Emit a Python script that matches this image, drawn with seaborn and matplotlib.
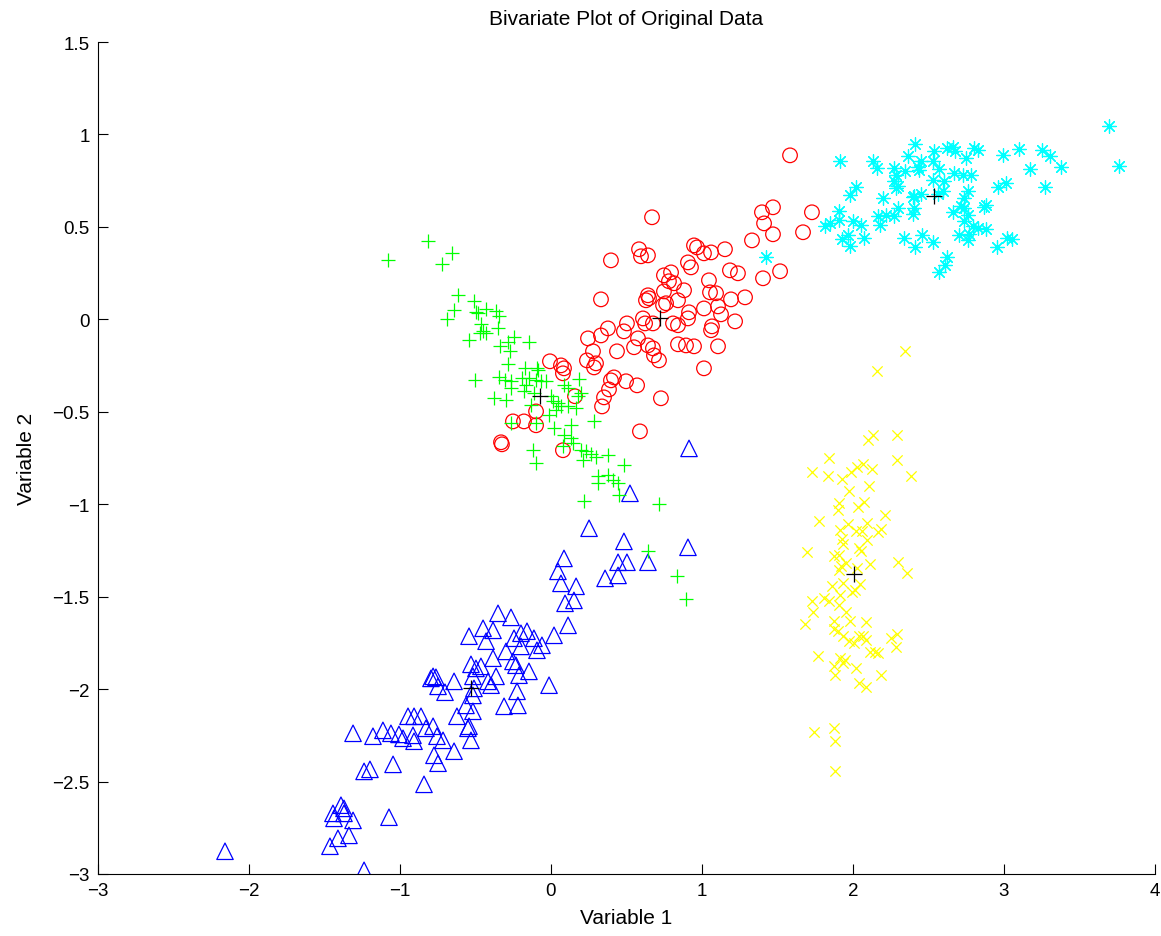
import numpy as np
import pandas as pd
import matplotlib
matplotlib.use("Agg")
import matplotlib.pyplot as plt
import seaborn as sns

# ---- cluster 1: blue triangles ----
blue_x = [-2.159, -1.238, -1.464, -1.411, -1.338, -1.391, -1.371, -1.444, -1.437, -1.311,
          -1.371, -1.073, -0.841, -1.046, -1.238, -1.199, -1.311, -1.179, -1.113, -1.060,
          -1.007, -0.980, -0.914, -0.907, -0.828, -0.781, -0.755, -0.715, -0.642, -0.775,
          -0.748, -0.947, -0.907, -0.861, -0.781, -0.795, -0.762, -0.642, -0.748, -0.702,
          -0.530, -0.497, -0.517, -0.510, -0.563, -0.517, -0.623, -0.543, -0.550, -0.530,
          -0.351, -0.265, -0.450, -0.384, -0.543, -0.430, -0.245, -0.199, -0.159, -0.113,
          -0.060, -0.199, -0.093, -0.298, -0.384, -0.464, -0.252, -0.232, -0.146, -0.212,
          -0.364, -0.417, -0.397, -0.013, -0.225, -0.517, -0.311, -0.219, 0.093, 0.152,
          0.113, 0.020, 0.086, 0.046, 0.066, 0.166, 0.252, 0.444, 0.503, 0.642,
          0.358, 0.444, 0.483, 0.523, 0.907, 0.914]
blue_y = [-2.877, -2.980, -2.850, -2.807, -2.791, -2.628, -2.645, -2.672, -2.699, -2.710,
          -2.672, -2.693, -2.515, -2.407, -2.445, -2.434, -2.239, -2.255, -2.223, -2.239,
          -2.245, -2.266, -2.250, -2.282, -2.212, -2.201, -2.255, -2.277, -2.336, -2.358,
          -2.401, -2.147, -2.147, -2.147, -1.931, -1.942, -1.936, -1.958, -1.985, -2.017,
          -1.866, -1.888, -1.931, -1.996, -2.088, -2.120, -2.147, -2.201, -2.212, -2.277,
          -1.590, -1.612, -1.671, -1.682, -1.714, -1.741, -1.725, -1.698, -1.687, -1.725,
          -1.763, -1.769, -1.790, -1.796, -1.833, -1.877, -1.850, -1.871, -1.904, -1.925,
          -1.931, -1.958, -1.979, -1.979, -2.012, -2.034, -2.093, -2.088, -1.536, -1.520,
          -1.655, -1.709, -1.293, -1.363, -1.428, -1.444, -1.130, -1.314, -1.314, -1.314,
          -1.401, -1.385, -1.201, -0.941, -1.233, -0.698]

# ---- cluster 2: yellow crosses ----
yellow_x = [2.344, 2.159, 2.132, 2.099, 2.291, 1.841, 1.728, 1.834, 1.927, 1.987,
            2.026, 2.066, 2.126, 2.291, 2.384, 2.106, 1.974, 1.907, 1.901, 2.033,
            2.073, 2.212, 1.775, 1.967, 1.914, 2.093, 2.020, 2.060, 2.185, 2.166,
            1.934, 2.093, 2.040, 2.053, 1.695, 1.874, 1.907, 1.921, 1.907, 2.113,
            2.298, 2.358, 2.026, 1.934, 1.861, 2.046, 1.993, 2.013, 1.914, 1.808,
            1.841, 1.728, 1.907, 1.735, 1.954, 1.980, 1.874, 2.086, 1.682, 1.874,
            1.901, 1.934, 1.974, 2.007, 2.040, 2.066, 2.086, 2.252, 2.291, 2.285,
            2.113, 2.146, 2.166, 1.768, 1.914, 1.947, 1.934, 1.874, 2.020, 1.881,
            2.185, 2.040, 2.086, 1.742, 1.874, 1.881, 1.881, 1.954, 1.927]
yellow_y = [-0.173, -0.281, -0.627, -0.654, -0.627, -0.752, -0.827, -0.849, -0.865, -0.827,
            -0.800, -0.784, -0.811, -0.763, -0.849, -0.903, -0.930, -0.995, -1.033, -1.017,
            -0.990, -1.060, -1.092, -1.109, -1.141, -1.103, -1.147, -1.147, -1.136, -1.152,
            -1.217, -1.195, -1.239, -1.255, -1.260, -1.282, -1.276, -1.336, -1.357, -1.325,
            -1.314, -1.374, -1.347, -1.428, -1.444, -1.433, -1.476, -1.466, -1.493, -1.509,
            -1.525, -1.525, -1.547, -1.585, -1.585, -1.633, -1.633, -1.639, -1.650, -1.677,
            -1.687, -1.714, -1.741, -1.752, -1.714, -1.714, -1.736, -1.725, -1.704, -1.774,
            -1.801, -1.801, -1.806, -1.823, -1.833, -1.844, -1.860, -1.877, -1.888, -1.925,
            -1.925, -1.969, -1.991, -2.234, -2.212, -2.282, -2.445, -1.320, -1.190]

# ---- cluster 3: cyan asterisks ----
cyan_x = [3.695, 3.762, 1.914, 2.132, 2.159, 2.411, 2.364, 2.450, 2.536, 2.530,
          2.623, 2.662, 2.675, 2.748, 2.801, 2.828, 2.993, 3.099, 3.252, 3.305,
          3.377, 3.172, 3.272, 2.960, 3.013, 2.881, 2.868, 2.272, 2.285, 2.344,
          2.430, 2.437, 2.570, 2.669, 2.728, 2.781, 2.530, 2.603, 2.272, 2.298,
          2.285, 2.020, 1.980, 2.762, 2.596, 2.563, 2.404, 2.397, 2.450, 2.199,
          2.735, 2.715, 2.735, 1.907, 2.298, 2.404, 2.397, 2.662, 2.762, 2.272,
          2.219, 2.166, 2.179, 1.848, 1.815, 1.907, 2.000, 2.053, 2.735, 2.795,
          2.828, 2.881, 2.768, 2.702, 2.762, 1.967, 1.927, 2.073, 1.980, 2.338,
          2.457, 2.530, 2.411, 2.623, 2.609, 2.570, 2.954, 3.020, 3.053, 1.424]
cyan_y = [1.044, 0.827, 0.855, 0.855, 0.817, 0.946, 0.882, 0.855, 0.909, 0.855,
          0.925, 0.930, 0.909, 0.871, 0.925, 0.914, 0.887, 0.919, 0.914, 0.882,
          0.822, 0.811, 0.714, 0.714, 0.736, 0.617, 0.606, 0.817, 0.779, 0.800,
          0.822, 0.806, 0.811, 0.790, 0.779, 0.779, 0.752, 0.746, 0.746, 0.719,
          0.709, 0.714, 0.671, 0.692, 0.692, 0.676, 0.665, 0.660, 0.676, 0.654,
          0.654, 0.611, 0.600, 0.584, 0.600, 0.600, 0.568, 0.579, 0.562, 0.557,
          0.562, 0.557, 0.508, 0.519, 0.503, 0.535, 0.530, 0.508, 0.530, 0.503,
          0.492, 0.487, 0.460, 0.454, 0.427, 0.454, 0.433, 0.438, 0.395, 0.438,
          0.454, 0.416, 0.389, 0.335, 0.292, 0.254, 0.389, 0.438, 0.433, 0.335]

# ---- cluster 4: red circles ----
red_x = [1.583, 0.669, 1.397, 1.470, 1.411, 1.470, 1.728, 1.669, 1.331, 1.517,
         1.404, 0.397, 0.583, 0.596, 0.642, 0.947, 0.967, 1.013, 1.060, 1.152,
         0.907, 0.927, 1.185, 1.238, 0.748, 0.795, 0.781, 0.815, 0.881, 1.046,
         1.053, 1.093, 0.331, 0.642, 0.629, 0.649, 0.748, 0.742, 0.762, 0.841,
         1.013, 1.106, 1.126, 1.192, 1.285, 0.914, 0.907, 0.609, 0.623, 0.675,
         0.808, 0.841, 1.066, 1.060, 1.219, 0.503, 0.483, 0.377, 0.331, 0.245,
         0.576, 0.550, 0.642, 0.675, 0.682, 0.715, 0.841, 0.894, 0.947, 1.106,
         0.437, 0.278, 0.238, 0.298, 0.285, 1.013, -0.007, 0.066, 0.086, 0.079,
         0.417, 0.397, 0.497, 0.570, 0.384, 0.351, 0.338, 0.728, 0.159, 0.589,
         -0.325, -0.331, -0.252, -0.179, -0.099, -0.099, 0.079]
red_y = [0.887, 0.552, 0.579, 0.606, 0.519, 0.460, 0.579, 0.471, 0.427, 0.260,
         0.222, 0.319, 0.379, 0.341, 0.346, 0.400, 0.389, 0.357, 0.362, 0.379,
         0.308, 0.281, 0.265, 0.249, 0.238, 0.254, 0.206, 0.195, 0.157, 0.211,
         0.146, 0.141, 0.108, 0.130, 0.103, 0.114, 0.151, 0.076, 0.087, 0.103,
         0.059, 0.070, 0.027, 0.108, 0.119, 0.038, 0.005, 0.005, -0.022, -0.022,
         -0.022, -0.032, -0.038, -0.059, -0.011, -0.022, -0.065, -0.049, -0.087, -0.103,
         -0.103, -0.151, -0.141, -0.157, -0.195, -0.222, -0.135, -0.141, -0.146, -0.146,
         -0.173, -0.173, -0.222, -0.238, -0.260, -0.265, -0.227, -0.249, -0.265, -0.292,
         -0.314, -0.330, -0.335, -0.357, -0.379, -0.422, -0.471, -0.427, -0.416, -0.606,
         -0.676, -0.665, -0.552, -0.552, -0.498, -0.573, -0.708]

# ---- cluster 5: green plus signs ----
green_x = [-1.079, -0.815, -0.722, -0.656, -0.616, -0.510, -0.642, -0.689, -0.497, -0.430,
           -0.364, -0.344, -0.483, -0.351, -0.464, -0.450, -0.470, -0.430, -0.543, -0.245,
           -0.285, -0.146, -0.338, -0.272, -0.285, -0.172, -0.093, -0.086, -0.503, -0.344,
           -0.305, -0.265, -0.192, -0.146, -0.099, -0.066, -0.033, -0.166, -0.265, -0.377,
           -0.298, -0.179, -0.113, 0.000, 0.013, 0.046, 0.066, 0.113, 0.086, 0.185,
           0.179, 0.113, 0.199, -0.132, -0.013, 0.033, 0.166, 0.132, 0.285, 0.020,
           -0.099, -0.265, 0.086, 0.132, 0.146, 0.079, -0.119, -0.099, 0.199, 0.232,
           0.265, 0.298, 0.377, 0.212, 0.483, 0.311, 0.377, 0.411, 0.444, 0.311,
           0.450, 0.219, 0.715, 0.642, 0.834, 0.894]
green_y = [0.319, 0.422, 0.297, 0.357, 0.130, 0.097, 0.049, 0.000, 0.038, 0.054,
           0.043, 0.016, 0.032, -0.049, -0.027, -0.065, -0.076, -0.076, -0.114, -0.097,
           -0.124, -0.124, -0.146, -0.173, -0.243, -0.265, -0.265, -0.276, -0.330, -0.314,
           -0.330, -0.335, -0.319, -0.319, -0.330, -0.335, -0.335, -0.357, -0.373, -0.427,
           -0.438, -0.389, -0.400, -0.416, -0.443, -0.454, -0.471, -0.471, -0.357, -0.324,
           -0.416, -0.373, -0.400, -0.465, -0.519, -0.492, -0.481, -0.573, -0.552, -0.590,
           -0.562, -0.562, -0.627, -0.644, -0.671, -0.687, -0.708, -0.779, -0.708, -0.714,
           -0.730, -0.746, -0.736, -0.763, -0.790, -0.849, -0.844, -0.871, -0.887, -0.887,
           -0.952, -0.984, -1.001, -1.255, -1.390, -1.514]

# ---- cluster centres ----
centre_x = [-0.530, -0.073, 0.722, 2.007, 2.536]
centre_y = [-1.996, -0.416, 0.005, -1.379, 0.665]

sns.set_theme(style="white")
plt.rcParams["font.family"] = ["Liberation Sans", "DejaVu Sans"]

fig = plt.figure(figsize=(11.61, 9.37), dpi=100)
ax = fig.add_axes([98 / 1161, 62 / 937, 1057 / 1161, 832 / 937])

lw = 0.9
sns.scatterplot(x=blue_x, y=blue_y, ax=ax, marker="^", s=140,
                facecolor="none", edgecolor=(0, 0, 1), linewidth=lw)
sns.scatterplot(x=yellow_x, y=yellow_y, ax=ax, marker="x", s=55,
                color=(1, 1, 0), linewidth=lw)
sns.scatterplot(x=cyan_x, y=cyan_y, ax=ax, marker=(8, 2, 0), s=95,
                color=(0, 1, 1), linewidth=lw)
sns.scatterplot(x=red_x, y=red_y, ax=ax, marker="o", s=110,
                facecolor="none", edgecolor=(1, 0, 0), linewidth=lw)
sns.scatterplot(x=green_x, y=green_y, ax=ax, marker="+", s=95,
                color=(0, 1, 0), linewidth=lw)
sns.scatterplot(x=centre_x, y=centre_y, ax=ax, marker="+", s=125,
                color="black", linewidth=lw)

ax.set_xlim(-3, 4)
ax.set_ylim(-3, 1.5)
ax.set_xticks(np.arange(-3, 5, 1))
ax.set_yticks(np.arange(-3, 2, 0.5))
ax.set_yticklabels(["−3", "−2.5", "−2", "−1.5", "−1", "−0.5", "0", "0.5", "1", "1.5"])
ax.set_xticklabels(["−3", "−2", "−1", "0", "1", "2", "3", "4"])

for side in ("top", "right"):
    ax.spines[side].set_visible(False)
for side in ("left", "bottom"):
    ax.spines[side].set_color("black")
    ax.spines[side].set_linewidth(0.8)

ax.tick_params(axis="both", direction="in", length=7, width=0.8, color="black",
               labelsize=13.5, labelcolor="black", pad=6,
               bottom=True, left=True, top=False, right=False)

ax.set_xlabel("Variable 1", fontsize=15, color="black", labelpad=6)
ax.set_ylabel("Variable 2", fontsize=15, color="black", labelpad=12)
ax.set_title("Bivariate Plot of Original Data", fontsize=15, color="black", pad=13)

fig.savefig("out.png", dpi=100)
